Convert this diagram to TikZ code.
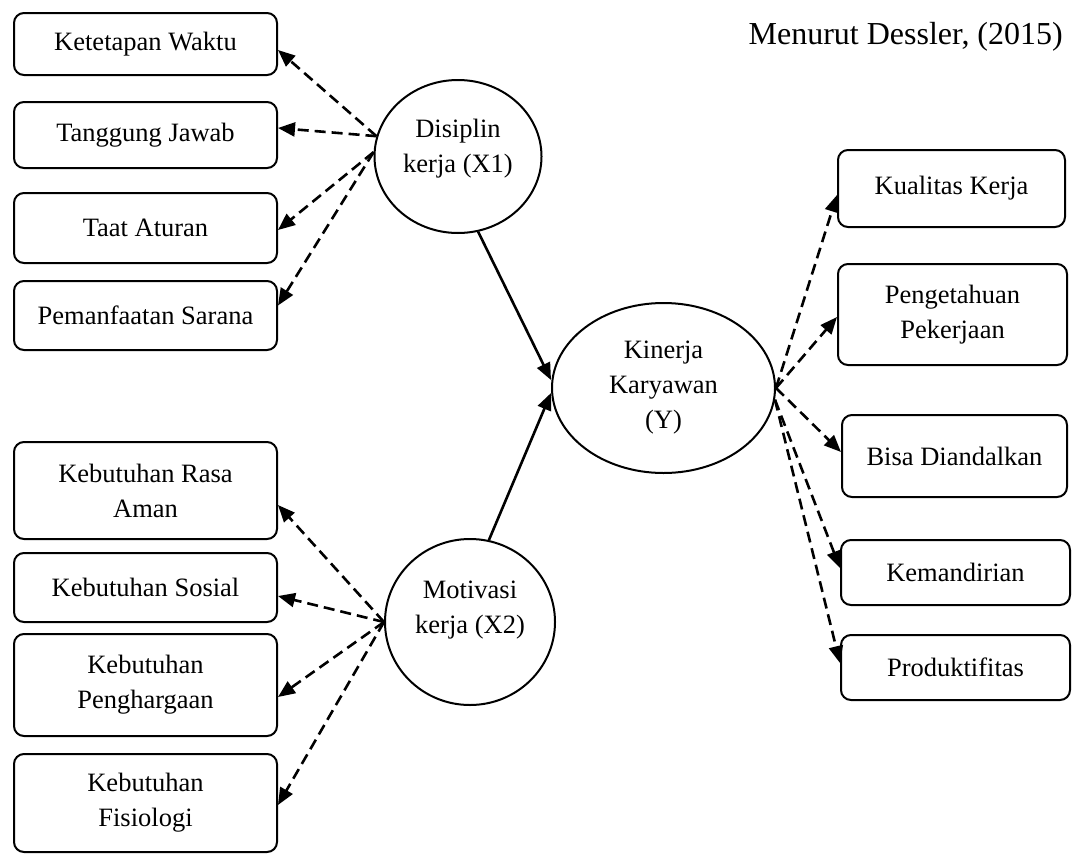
\documentclass[tikz,border=0pt]{standalone}
\usepackage{fontspec}
\setmainfont{Liberation Serif}
\usetikzlibrary{shapes.geometric,arrows.meta}
\begin{document}
\begin{tikzpicture}[x=1pt,y=-1pt,
  txt/.style={font=\fontsize{26.5}{35}\selectfont},
  box/.style={txt, draw, line width=2pt, rounded corners=10pt, align=center, inner sep=0pt},
  oval/.style={txt, draw, ellipse, line width=2pt, align=center, inner sep=0pt},
  dasharrow/.style={line width=2.6pt, dash pattern=on 11pt off 6pt, -{Triangle[length=17pt,width=14pt]}},
  solidarrow/.style={line width=2.6pt, -{Triangle[length=17pt,width=14pt]}}
]
\useasboundingbox (0,0) rectangle (1073,854);

% title
\node[anchor=base east, font=\fontsize{32}{38}\selectfont, inner sep=0pt] (T) at (1063,44) {Menurut Dessler, (2015)};

% left boxes (Disiplin)
\node[box, minimum width=263pt, minimum height=62pt] (K1) at (145.5,44) {Ketetapan Waktu};
\node[box, minimum width=263pt, minimum height=66pt] (K2) at (145.5,135) {Tanggung Jawab};
\node[box, minimum width=263pt, minimum height=70pt] (K3) at (145.5,228) {Taat Aturan};
\node[box, minimum width=263pt, minimum height=69pt] (K4) at (145.5,315.5) {Pemanfaatan Sarana};

% left boxes (Motivasi)
\node[box, minimum width=263pt, minimum height=97pt] (M1) at (145.5,490.5) {Kebutuhan Rasa\\Aman};
\node[box, minimum width=263pt, minimum height=69pt] (M2) at (145.5,587.5) {Kebutuhan Sosial};
\node[box, minimum width=263pt, minimum height=102pt] (M3) at (145.5,685) {Kebutuhan\\Penghargaan};
\node[box, minimum width=263pt, minimum height=98pt] (M4) at (145.5,803) {Kebutuhan\\Fisiologi};

% right boxes (Kinerja)
\node[box, minimum width=227pt, minimum height=77pt] (R1) at (951.5,188.5) {Kualitas Kerja};
\node[box, minimum width=229pt, minimum height=101pt] (R2) at (952.5,314.5) {Pengetahuan\\Pekerjaan};
\node[box, minimum width=225pt, minimum height=82pt] (R3) at (954.5,456) {Bisa Diandalkan};
\node[box, minimum width=229pt, minimum height=65pt] (R4) at (955.5,572.5) {Kemandirian};
\node[box, minimum width=229pt, minimum height=65pt] (R5) at (955.5,667.5) {Produktifitas};

% ellipses
\node[oval, minimum width=167pt, minimum height=153pt, text depth=21pt] (D) at (458,156.5) {Disiplin\\kerja (X1)};
\node[oval, minimum width=223pt, minimum height=170pt] (Y) at (663.5,388) {Kinerja\\Karyawan\\(Y)};
\node[oval, minimum width=170pt, minimum height=166pt, text depth=29pt] (Mo) at (470,622) {Motivasi\\kerja (X2)};

% origin points on ellipses
\coordinate (d1) at (D.166);
\coordinate (d2) at (D.177);
\coordinate (m0) at (Mo.west);
\coordinate (y1) at (Y.east);
\coordinate (y2) at (Y.-6);

% dashed arrows from Disiplin
\draw[dasharrow] (d1) -- ([yshift=-6pt]K1.east);
\draw[dasharrow] (d1) -- ([yshift=7pt]K2.east);
\draw[dasharrow] (d2) -- ([yshift=-2pt]K3.east);
\draw[dasharrow] (d2) -- ([yshift=10pt]K4.east);

% dashed arrows from Motivasi
\draw[dasharrow] (m0) -- ([yshift=-14.5pt]M1.east);
\draw[dasharrow] (m0) -- ([yshift=-8.5pt]M2.east);
\draw[dasharrow] (m0) -- ([yshift=-12pt]M3.east);
\draw[dasharrow] (m0) -- ([yshift=-2pt]M4.east);

% dashed arrows from Kinerja
\draw[dasharrow] (y1) -- ([yshift=-6.5pt]R1.west);
\draw[dasharrow] (y1) -- ([yshift=-2.5pt]R2.west);
\draw[dasharrow] (y1) -- ([yshift=4pt]R3.west);
\draw[dasharrow] (y2) -- ([yshift=4.5pt]R4.west);
\draw[dasharrow] (y2) -- ([yshift=4.5pt]R5.west);

% solid arrows
\draw[solidarrow] (D.-75) -- ([yshift=8pt]Y.west);
\draw[solidarrow] (Mo.77) -- ([yshift=-5pt]Y.west);
\end{tikzpicture}
\end{document}
